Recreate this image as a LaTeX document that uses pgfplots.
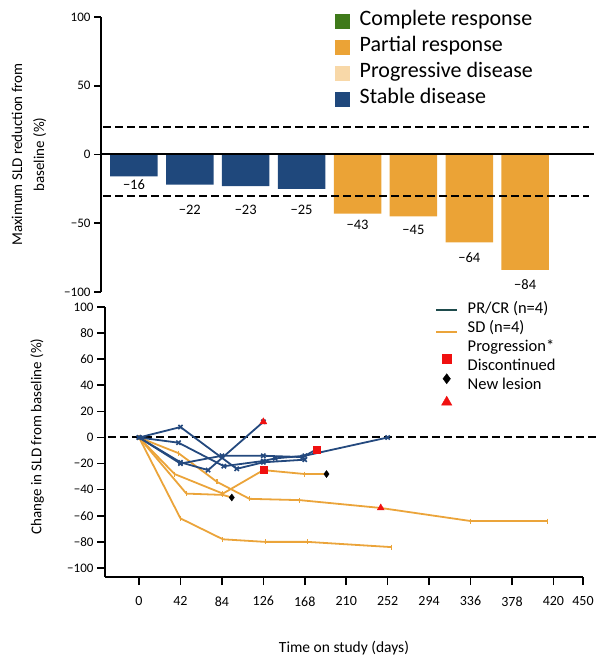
\documentclass[border=0pt]{standalone}
\usepackage{fontspec}
\setmainfont{Carlito}
\usepackage{pgfplots}
\pgfplotsset{compat=1.18}
\definecolor{sdblue}{HTML}{1F487C}
\definecolor{prorange}{HTML}{EBA336}
\definecolor{crgreen}{HTML}{3F7A1A}
\definecolor{pdlight}{HTML}{F8D8A8}
\definecolor{prcr}{HTML}{1E4B4C}
\definecolor{lineblue}{HTML}{24497E}
\definecolor{lineorange}{HTML}{EBA43A}
\definecolor{mkred}{HTML}{F01010}
\newcommand{\lgA}{\fontsize{22}{24}\selectfont}
\newcommand{\lgB}{\fontsize{16.5}{18}\selectfont}
\begin{document}
\begin{tikzpicture}
\useasboundingbox (0,0) rectangle (597pt,658pt);
% ---------------- top: waterfall ----------------
\begin{axis}[
  at={(101pt,366pt)}, anchor=south west, scale only axis,
  width=494pt, height=275pt,
  xmin=0.41, xmax=9.25, ymin=-100, ymax=100,
  axis x line=none, axis y line*=left,
  axis line style={line width=2pt},
  ytick={-100,-50,0,50,100},
  yticklabels={−100,−50,0,50,100},
  tick align=outside, major tick length=7pt,
  every tick/.style={line width=1.6pt, black},
  tick label style={font=\fontsize{13}{15}\selectfont},
  ylabel={Maximum SLD reduction from\\baseline (\%)},
  ylabel style={at={(axis description cs:-0.146,0.5)}, anchor=center, align=center, font=\fontsize{15}{22}\selectfont},
  clip=false,
  legend style={at={(axis description cs:0.4737,1.026)}, anchor=north west, draw=none, fill=none,
     inner sep=0pt, row sep=4pt, column sep=9pt,
     nodes={inner sep=1.5pt, text height=14pt, text depth=5pt}},
  legend cell align=left,
]
\addlegendimage{legend image code/.code={\path[draw=none, fill=none] (0pt,0pt) -- (14pt,0pt); \fill[crgreen, overlay] (0pt,-7pt) rectangle (14pt,7pt);}}
\addlegendentry{\lgA Complete response}
\addlegendimage{legend image code/.code={\path[draw=none, fill=none] (0pt,0pt) -- (14pt,0pt); \fill[prorange, overlay] (0pt,-7pt) rectangle (14pt,7pt);}}
\addlegendentry{\lgA Partial response}
\addlegendimage{legend image code/.code={\path[draw=none, fill=none] (0pt,0pt) -- (14pt,0pt); \fill[pdlight, overlay] (0pt,-7pt) rectangle (14pt,7pt);}}
\addlegendentry{\lgA Progressive disease}
\addlegendimage{legend image code/.code={\path[draw=none, fill=none] (0pt,0pt) -- (14pt,0pt); \fill[sdblue, overlay] (0pt,-7pt) rectangle (14pt,7pt);}}
\addlegendentry{\lgA Stable disease}

\addplot[ybar, bar width=47.5pt, bar shift=0pt, fill=sdblue, draw=none, forget plot]
  coordinates {(1,-16) (2,-22) (3,-23) (4,-25)};
\addplot[ybar, bar width=47.5pt, bar shift=0pt, fill=prorange, draw=none, forget plot]
  coordinates {(5,-43) (6,-45) (7,-64) (8,-84)};
\addplot[black, line width=2pt, forget plot] coordinates {(0.41,0) (9.23,0)};
\addplot[black, line width=2pt, dash pattern=on 8pt off 4pt, forget plot] coordinates {(0.45,20) (9.14,20)};
\addplot[black, line width=2pt, dash pattern=on 8pt off 4pt, forget plot] coordinates {(0.45,-30) (9.14,-30)};
\addplot[draw=none, mark=none, nodes near coords, point meta=explicit symbolic,
  every node near coord/.style={anchor=center, font=\fontsize{14.5}{16}\selectfont}, forget plot]
  coordinates {(1,-21.8)[−16] (2,-40)[−22] (3,-40)[−23] (4,-40)[−25]
               (5,-51)[−43] (6,-54.5)[−45] (7,-75)[−64] (8,-94.5)[−84]};
\end{axis}
% ---------------- bottom: spider plot ----------------
\begin{axis}[
  at={(105pt,81pt)}, anchor=south west, scale only axis,
  width=478pt, height=270pt,
  xmin=-34.5, xmax=450, ymin=-106.9, ymax=100,
  axis x line*=bottom, axis y line*=left,
  axis line style={line width=2pt},
  xtick={0,42,84,126,168,210,252,294,336,378,420,450},
  xticklabels={0,42,84,126,168,210,252,294,336,378,420,450},
  xticklabel style={font=\fontsize{14}{16}\selectfont, yshift=-8pt},
  ytick={-100,-80,-60,-40,-20,0,20,40,60,80,100},
  yticklabels={−100,−80,−60,−40,−20,0,20,40,60,80,100},
  yticklabel style={font=\fontsize{13}{15}\selectfont},
  tick align=outside, major tick length=8pt,
  every tick/.style={line width=1.6pt, black},
  xlabel={Time on study (days)},
  xlabel style={at={(axis description cs:0.5,-0.263)}, anchor=center, font=\fontsize{15.5}{17}\selectfont},
  ylabel={Change in SLD from baseline (\%)},
  ylabel style={at={(axis description cs:-0.142,0.52)}, anchor=center, font=\fontsize{15}{17}\selectfont},
  clip=false,
  legend style={at={(axis description cs:0.6925,1.024)}, anchor=north west, draw=none, fill=none,
     inner sep=0pt, row sep=0pt, column sep=9pt,
     nodes={inner sep=1.5pt, text height=11.5pt, text depth=4.5pt}},
  legend cell align=left,
]
\addlegendimage{legend image code/.code={\path[draw=none, fill=none] (0pt,0pt) -- (21pt,0pt); \draw[prcr, line width=1.6pt, overlay] (0pt,0pt) -- (21pt,0pt);}}
\addlegendentry{\lgB PR/CR (n=4)}
\addlegendimage{legend image code/.code={\path[draw=none, fill=none] (0pt,0pt) -- (21pt,0pt); \draw[lineorange, line width=1.6pt, overlay] (0pt,-3pt) -- (21pt,-3pt);}}
\addlegendentry{\lgB SD (n=4)}
\addlegendimage{legend image code/.code={\path[draw=none, fill=none] (0pt,0pt) -- (21pt,0pt); \draw[mkred, fill=mkred, overlay] plot[mark=square*, mark size=4.5pt] coordinates {(10.5pt,-10.5pt)};}}
\addlegendentry{\lgB Progression*}
\addlegendimage{legend image code/.code={\path[draw=none, fill=none] (0pt,0pt) -- (21pt,0pt); \draw[black, fill=black, overlay] plot[mark=diamond*, mark size=5pt] coordinates {(10.5pt,-11.5pt)};}}
\addlegendentry{\lgB Discontinued}
\addlegendimage{legend image code/.code={\path[draw=none, fill=none] (0pt,0pt) -- (21pt,0pt); \draw[mkred, fill=mkred, overlay] plot[mark=triangle*, mark size=6pt] coordinates {(10.5pt,-16pt)};}}
\addlegendentry{\lgB New lesion}

\addplot[black, line width=2pt, dash pattern=on 8pt off 4pt, forget plot] coordinates {(-31.5,0) (465,0)};
% orange series
\pgfplotsset{orangeline/.style={lineorange, line width=1.8pt, mark=|, mark size=2.5pt, mark options={line width=1.2pt}, forget plot}}
\addplot[orangeline] coordinates {(0,0) (40,-12) (79,-34) (112,-47) (163,-48) (245,-54) (336,-64) (414,-64)};
\addplot[orangeline] coordinates {(0,0) (36,-28) (85,-43) (126,-25) (168,-28) (190,-28)};
\addplot[orangeline] coordinates {(0,0) (48,-43) (85,-44) (94,-46)};
\addplot[orangeline] coordinates {(0,0) (42,-62) (85,-78) (128,-80) (171,-80) (256,-84)};
% blue series
\pgfplotsset{blueline/.style={lineblue, line width=1.8pt, mark=x, mark size=3pt, mark options={line width=1.6pt}, forget plot}}
\addplot[blueline] coordinates {(0,0) (42,8) (99,-24) (126,-19) (168,-17)};
\addplot[blueline] coordinates {(0,0) (40,-4) (86,-22) (126,-18) (138,-16) (168,-14) (252,0)};
\addplot[blueline] coordinates {(0,0) (42,-19) (70,-25) (126,12)};
\addplot[blueline] coordinates {(0,0) (42,-20) (84,-14) (126,-14) (166,-15) (180,-9)};
% event markers
\addplot[only marks, mark=square*, mkred, mark size=3.5pt, forget plot] coordinates {(126,-25) (180,-9)};
\addplot[only marks, mark=triangle*, mkred, mark size=4pt, forget plot] coordinates {(126,12) (245,-54)};
\addplot[only marks, mark=diamond*, black, mark size=3.5pt, forget plot] coordinates {(94,-46) (190,-28)};
\end{axis}
\end{tikzpicture}
\end{document}
